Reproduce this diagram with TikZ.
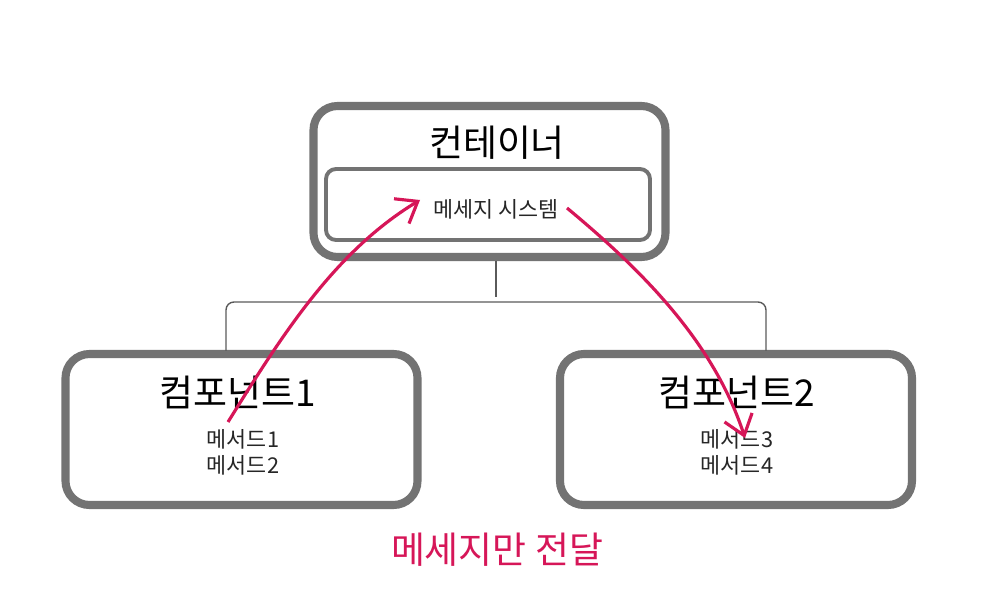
\documentclass[tikz,border=0pt]{standalone}
\usepackage{fontspec}
\setmainfont{Noto Sans CJK KR}
\usetikzlibrary{arrows.meta}
\definecolor{boxgray}{RGB}{115,115,115}
\definecolor{wiregray}{RGB}{90,90,90}
\definecolor{msgred}{RGB}{214,22,88}

\begin{document}
\begin{tikzpicture}[x=0.1mm,y=-0.1mm]
	\tikzstyle{every node}+=[inner sep=0pt]
	\tikzstyle{bigbox}=[draw=boxgray,line width=2.3pt,rounded corners=2.4mm,minimum width=35.2mm,minimum height=15.1mm]
	\tikzstyle{sysbox}=[draw=boxgray,line width=1.1pt,rounded corners=1mm,minimum width=32.4mm,minimum height=7.1mm]
	\tikzstyle{boxtitle}=[font=\fontsize{10.5pt}{12pt}\selectfont]
	\tikzstyle{small}=[font=\fontsize{6.2pt}{7.4pt}\selectfont,text=black!85,align=center]
	\tikzstyle{wire}=[draw=wiregray,line width=0.4pt]
	\tikzstyle{msg}=[draw=msgred,line width=0.9pt,-{Straight Barb[length=1.9mm,width=2.9mm]}]
	\useasboundingbox (0,0) rectangle (1000,600);
	% container
	\node [bigbox] (cont) at (489.5,181.5) {};
	\node [sysbox] (sys) at (488,204.5) {};
	\node [boxtitle] (conttitle) at (497,143) {컨테이너};
	\node [small] (systext) at (496,209) {메세지 시스템};
	% components
	\node [bigbox] (comp1) at (241.5,429.5) {};
	\node [boxtitle] (comp1title) at (238,392) {컴포넌트1};
	\node [small] (comp1meth) at (243,452) {메서드1\\메서드2};
	\node [bigbox] (comp2) at (736,429.5) {};
	\node [boxtitle] (comp2title) at (737,392) {컴포넌트2};
	\node [small] (comp2meth) at (737,452) {메서드3\\메서드4};
	% tree lines
	\coordinate (top) at (496,261);
	\coordinate (j0) at (496,297);
	\coordinate (j3) at (496,302);
	\coordinate (j1) at (226,351);
	\coordinate (j2) at (766,351);
	\draw [wire] (top) -- (j0);
	\draw [wire,rounded corners=0.8mm] (j1) |- (j3) -| (j2);
	% messages
	\coordinate (m1s) at (228,422);
	\coordinate (m1e) at (420,200);
	\coordinate (m2s) at (567,208);
	\coordinate (m2e) at (745,438);
	\draw [msg] (m1s) .. controls +(53,-85) and +(-86,52) .. (m1e);
	\draw [msg] (m2s) .. controls +(77,64) and +(-31,-95) .. (m2e);
	\node [font=\fontsize{10.5pt}{12pt}\selectfont,text=msgred] (note) at (497,550) {메세지만 전달};
\end{tikzpicture}
\end{document}
